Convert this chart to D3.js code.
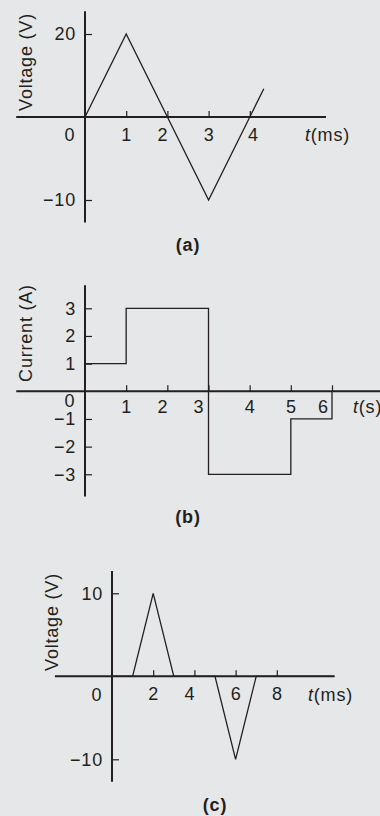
<!DOCTYPE html>
<html>
<head>
<meta charset="utf-8">
<script src="https://cdn.jsdelivr.net/npm/d3@7"></script>
<style>
  html, body { margin: 0; padding: 0; background: #e6e7e8; }
  svg { display: block; font-family: "Liberation Sans", Arial, sans-serif; }
  svg text { letter-spacing: 0.8px; }
  .tick text { font-size: 18px; fill: #231f20; }
</style>
</head>
<body>
<div id="chart"></div>
<script>
// (a) voltage triangle wave
const timeA = [0, 1, 2, 3, 4, 4.34];
const voltA = [0, 20, 0, -10, 0, 6.8];
const xTicksA = [1, 2, 3, 4];
const yTicksA = [20, -10];

// (b) current step function
const timeB = [0, 1, 3, 5, 6];
const currB = [1, 3, -3, -1, 0];
const xTicksB = [1, 2, 3, 4, 5, 6];
const yTicksB = [3, 2, 1, -1, -2, -3];

// (c) voltage pulses
const timeC = [0, 1, 2, 3, 5, 6, 7, 10.8];
const voltC = [0, 0, 10, 0, 0, -10, 0, 0];
const xTicksC = [2, 4, 6, 8];
const yTicksC = [10, -10];

const ink = "#231f20";
const fs = 18;
const width = 380, height = 816;

const svg = d3.select("#chart").append("svg")
  .attr("width", width)
  .attr("height", height);

function drawPanel(p) {
  const g = svg.append("g");
  const x = p.x, y = p.y;

  // x axis line
  g.append("line")
    .attr("x1", x(p.xExt[0])).attr("x2", x(p.xExt[1]))
    .attr("y1", y(0)).attr("y2", y(0))
    .attr("stroke", ink).attr("stroke-width", 2);
  // y axis line
  g.append("line")
    .attr("x1", x(0)).attr("x2", x(0))
    .attr("y1", y(p.yExt[0])).attr("y2", y(p.yExt[1]))
    .attr("stroke", ink).attr("stroke-width", 2);

  const xa = g.append("g")
    .attr("transform", `translate(0,${y(0)})`)
    .call(d3.axisBottom(x).tickValues(p.xTicks).tickFormat(d3.format("d"))
      .tickSize(-6).tickPadding(p.xPad));
  xa.select(".domain").remove();
  xa.selectAll(".tick line").attr("stroke", ink).attr("stroke-width", 1.2);
  xa.selectAll(".tick text").attr("font-family", null).attr("font-size", null)
    .attr("dx", d => p.nudge[d] || 0);

  const ya = g.append("g")
    .attr("transform", `translate(${x(0)},0)`)
    .call(d3.axisLeft(y).tickValues(p.yTicks).tickFormat(d3.format("d"))
      .tickSize(-7).tickPadding(9));
  ya.select(".domain").remove();
  ya.selectAll(".tick line").attr("stroke", ink).attr("stroke-width", 1.2);
  ya.selectAll(".tick text").attr("font-family", null).attr("font-size", null);

  // origin label
  g.append("text")
    .attr("x", p.zero[0]).attr("y", p.zero[1])
    .attr("text-anchor", "middle")
    .attr("font-size", fs).attr("fill", ink)
    .text("0");

  // data
  const line = d3.line()
    .x(d => x(d[0]))
    .y(d => y(d[1]))
    .curve(p.curve || d3.curveLinear);
  g.append("path")
    .datum(d3.zip(p.t, p.v))
    .attr("d", line)
    .attr("fill", "none")
    .attr("stroke", ink)
    .attr("stroke-width", 1.3);

  // t label
  const tl = g.append("text")
    .attr("x", p.tPos[0]).attr("y", p.tPos[1])
    .attr("font-size", fs).attr("fill", ink);
  tl.append("tspan").attr("font-style", "italic").text("t");
  tl.append("tspan").text(p.tUnit);

  // y title
  g.append("text")
    .attr("transform", `translate(${p.yTitle[0]},${p.yTitle[1]}) rotate(-90)`)
    .attr("text-anchor", "middle")
    .attr("font-size", fs).attr("fill", ink)
    .text(p.yLabel);

  // panel label
  g.append("text")
    .attr("x", p.tag[0]).attr("y", p.tag[1])
    .attr("text-anchor", "middle")
    .attr("font-size", fs).attr("font-weight", "bold").attr("fill", ink)
    .text(p.tagText);
}

drawPanel({
  x: d3.scaleLinear().domain([0, 4]).range([85, 249.8]),
  y: d3.scaleLinear().domain([-10, 0, 20]).range([200, 117, 34]),
  xExt: [-1.67, 5.85], yExt: [-12.7, 25.5],
  xTicks: xTicksA, yTicks: yTicksA, xPad: 11,
  nudge: { 2: -5, 4: 3 },
  zero: [70, 141],
  t: timeA, v: voltA,
  tPos: [305, 141], tUnit: "(ms)",
  yLabel: "Voltage (V)", yTitle: [32, 62],
  tag: [188, 251], tagText: "(a)"
});

drawPanel({
  x: d3.scaleLinear().domain([0, 6]).range([85, 332]),
  y: d3.scaleLinear().domain([-3, 3]).range([474.3, 308.3]),
  xExt: [-1.67, 7.5], yExt: [-3.8, 3.83],
  xTicks: xTicksB, yTicks: yTicksB, xPad: 9,
  nudge: { 2: -5, 3: -10, 6: -9 },
  zero: [70, 407],
  t: timeB, v: currB, curve: d3.curveStepAfter,
  tPos: [353, 413], tUnit: "(s)",
  yLabel: "Current (A)", yTitle: [32, 333],
  tag: [188, 523], tagText: "(b)"
});

drawPanel({
  x: d3.scaleLinear().domain([0, 8]).range([112, 276.8]),
  y: d3.scaleLinear().domain([-10, 10]).range([759.3, 593.3]),
  xExt: [-2.77, 10.8], yExt: [-12.7, 12.7],
  xTicks: xTicksC, yTicks: yTicksC, xPad: 11,
  nudge: { 4: -5 },
  zero: [97, 701],
  t: timeC, v: voltC,
  tPos: [308, 701], tUnit: "(ms)",
  yLabel: "Voltage (V)", yTitle: [58, 622],
  tag: [215, 811], tagText: "(c)"
});
</script>
</body>
</html>
